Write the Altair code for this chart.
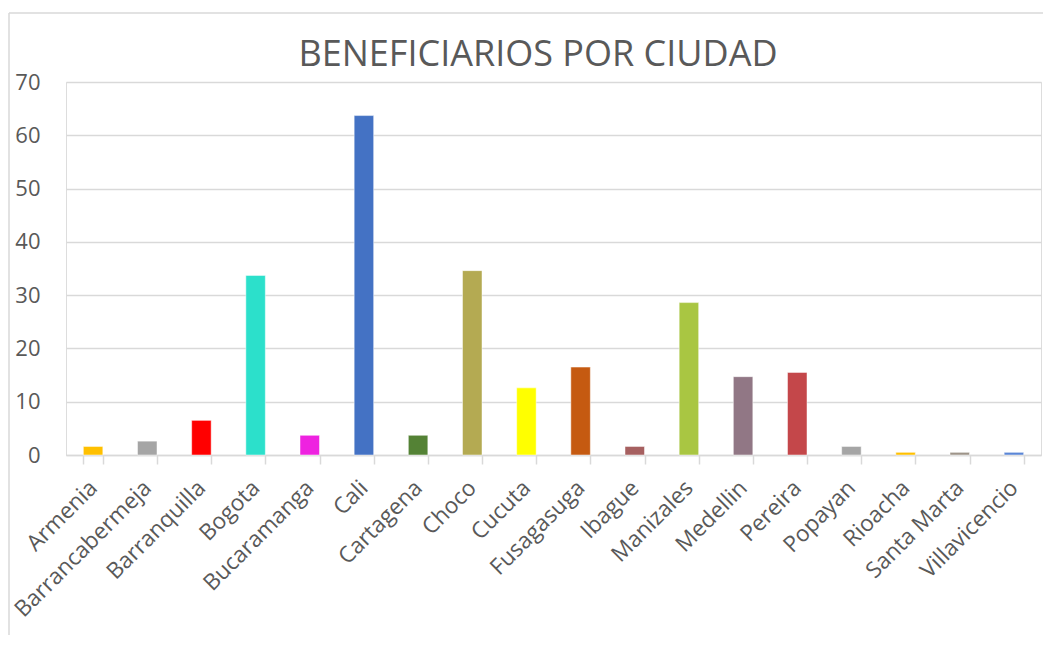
import altair as alt
import pandas as pd

cities = ["Armenia", "Barrancabermeja", "Barranquilla", "Bogota", "Bucaramanga", "Cali",
          "Cartagena", "Choco", "Cucuta", "Fusagasuga", "Ibague", "Manizales", "Medellin",
          "Pereira", "Popayan", "Rioacha", "Santa Marta", "Villavicencio"]
values = [1.6, 2.6, 6.5, 33.7, 3.7, 63.7, 3.7, 34.6, 12.6, 16.5, 1.6, 28.6, 14.7,
          15.5, 1.6, 0.5, 0.5, 0.5]
colors = ["#FFC000", "#A5A5A5", "#FF0000", "#2CE0CB", "#EE22E0", "#4472C4", "#548235",
          "#B4AA52", "#FFFF00", "#C55A11", "#A66060", "#A9C642", "#917785", "#C4474A",
          "#A5A5A5", "#FFC000", "#9E9489", "#5B86D6"]
y_ticks = [0, 10, 20, 30, 40, 50, 60, 70]
title_text = "BENEFICIARIOS POR CIUDAD"

df = pd.DataFrame({"Ciudad": cities, "Beneficiarios": values})

W, H = 975, 373
PAD = {"left": 58, "top": 74, "right": 2, "bottom": 180}
GRID = "#D9D9D9"
TXT = "#595959"
FONT = "Open Sans"

bars = alt.Chart(df).mark_bar(stroke="white", strokeWidth=0.8, strokeOpacity=0.6).encode(
    x=alt.X("Ciudad:N", sort=cities, title=None,
            scale=alt.Scale(paddingInner=0.64, paddingOuter=0.32),
            axis=alt.Axis(labelAngle=-45, labelAlign="right", labelBaseline="middle",
                          labelFont=FONT, labelFontSize=22.5, labelColor=TXT,
                          labelPadding=20, labelLimit=400, labelOverlap=False,
                          tickBand="extent", tickColor=GRID,
                          tickSize=9, tickWidth=1.5, domainColor=GRID, domainWidth=1.5,
                          grid=False)),
    y=alt.Y("Beneficiarios:Q", title=None,
            scale=alt.Scale(domain=[0, 70], nice=False),
            axis=alt.Axis(values=y_ticks, labelFont=FONT, labelFontSize=22, labelColor=TXT,
                          labelPadding=26, domain=False, ticks=False,
                          grid=True, gridColor=GRID, gridWidth=1.5)),
    color=alt.Color("Ciudad:N", sort=cities,
                    scale=alt.Scale(domain=cities, range=colors), legend=None),
)

one = alt.Data(values=[{}])
frame_left = alt.Chart(one).mark_rule(color=GRID, strokeWidth=1.5).encode(
    x=alt.value(-57), y=alt.value(-69), y2=alt.value(H + PAD["bottom"]))
frame_top = alt.Chart(one).mark_rule(color=GRID, strokeWidth=1.5).encode(
    x=alt.value(-57), x2=alt.value(W + 10), y=alt.value(-69))
title = alt.Chart(one).mark_text(font=FONT, fontSize=36, color=TXT, align="center",
                                 baseline="alphabetic").encode(
    text=alt.value(title_text), x=alt.value(472), y=alt.value(-16))

chart = alt.layer(frame_left, frame_top, title, bars).properties(
    width=W, height=H,
    autosize=alt.AutoSizeParams(type="none"),
    padding=PAD,
).configure_view(stroke=None).configure(background="white")

chart.save("out.html", embed_options={"renderer": "svg", "actions": False})
